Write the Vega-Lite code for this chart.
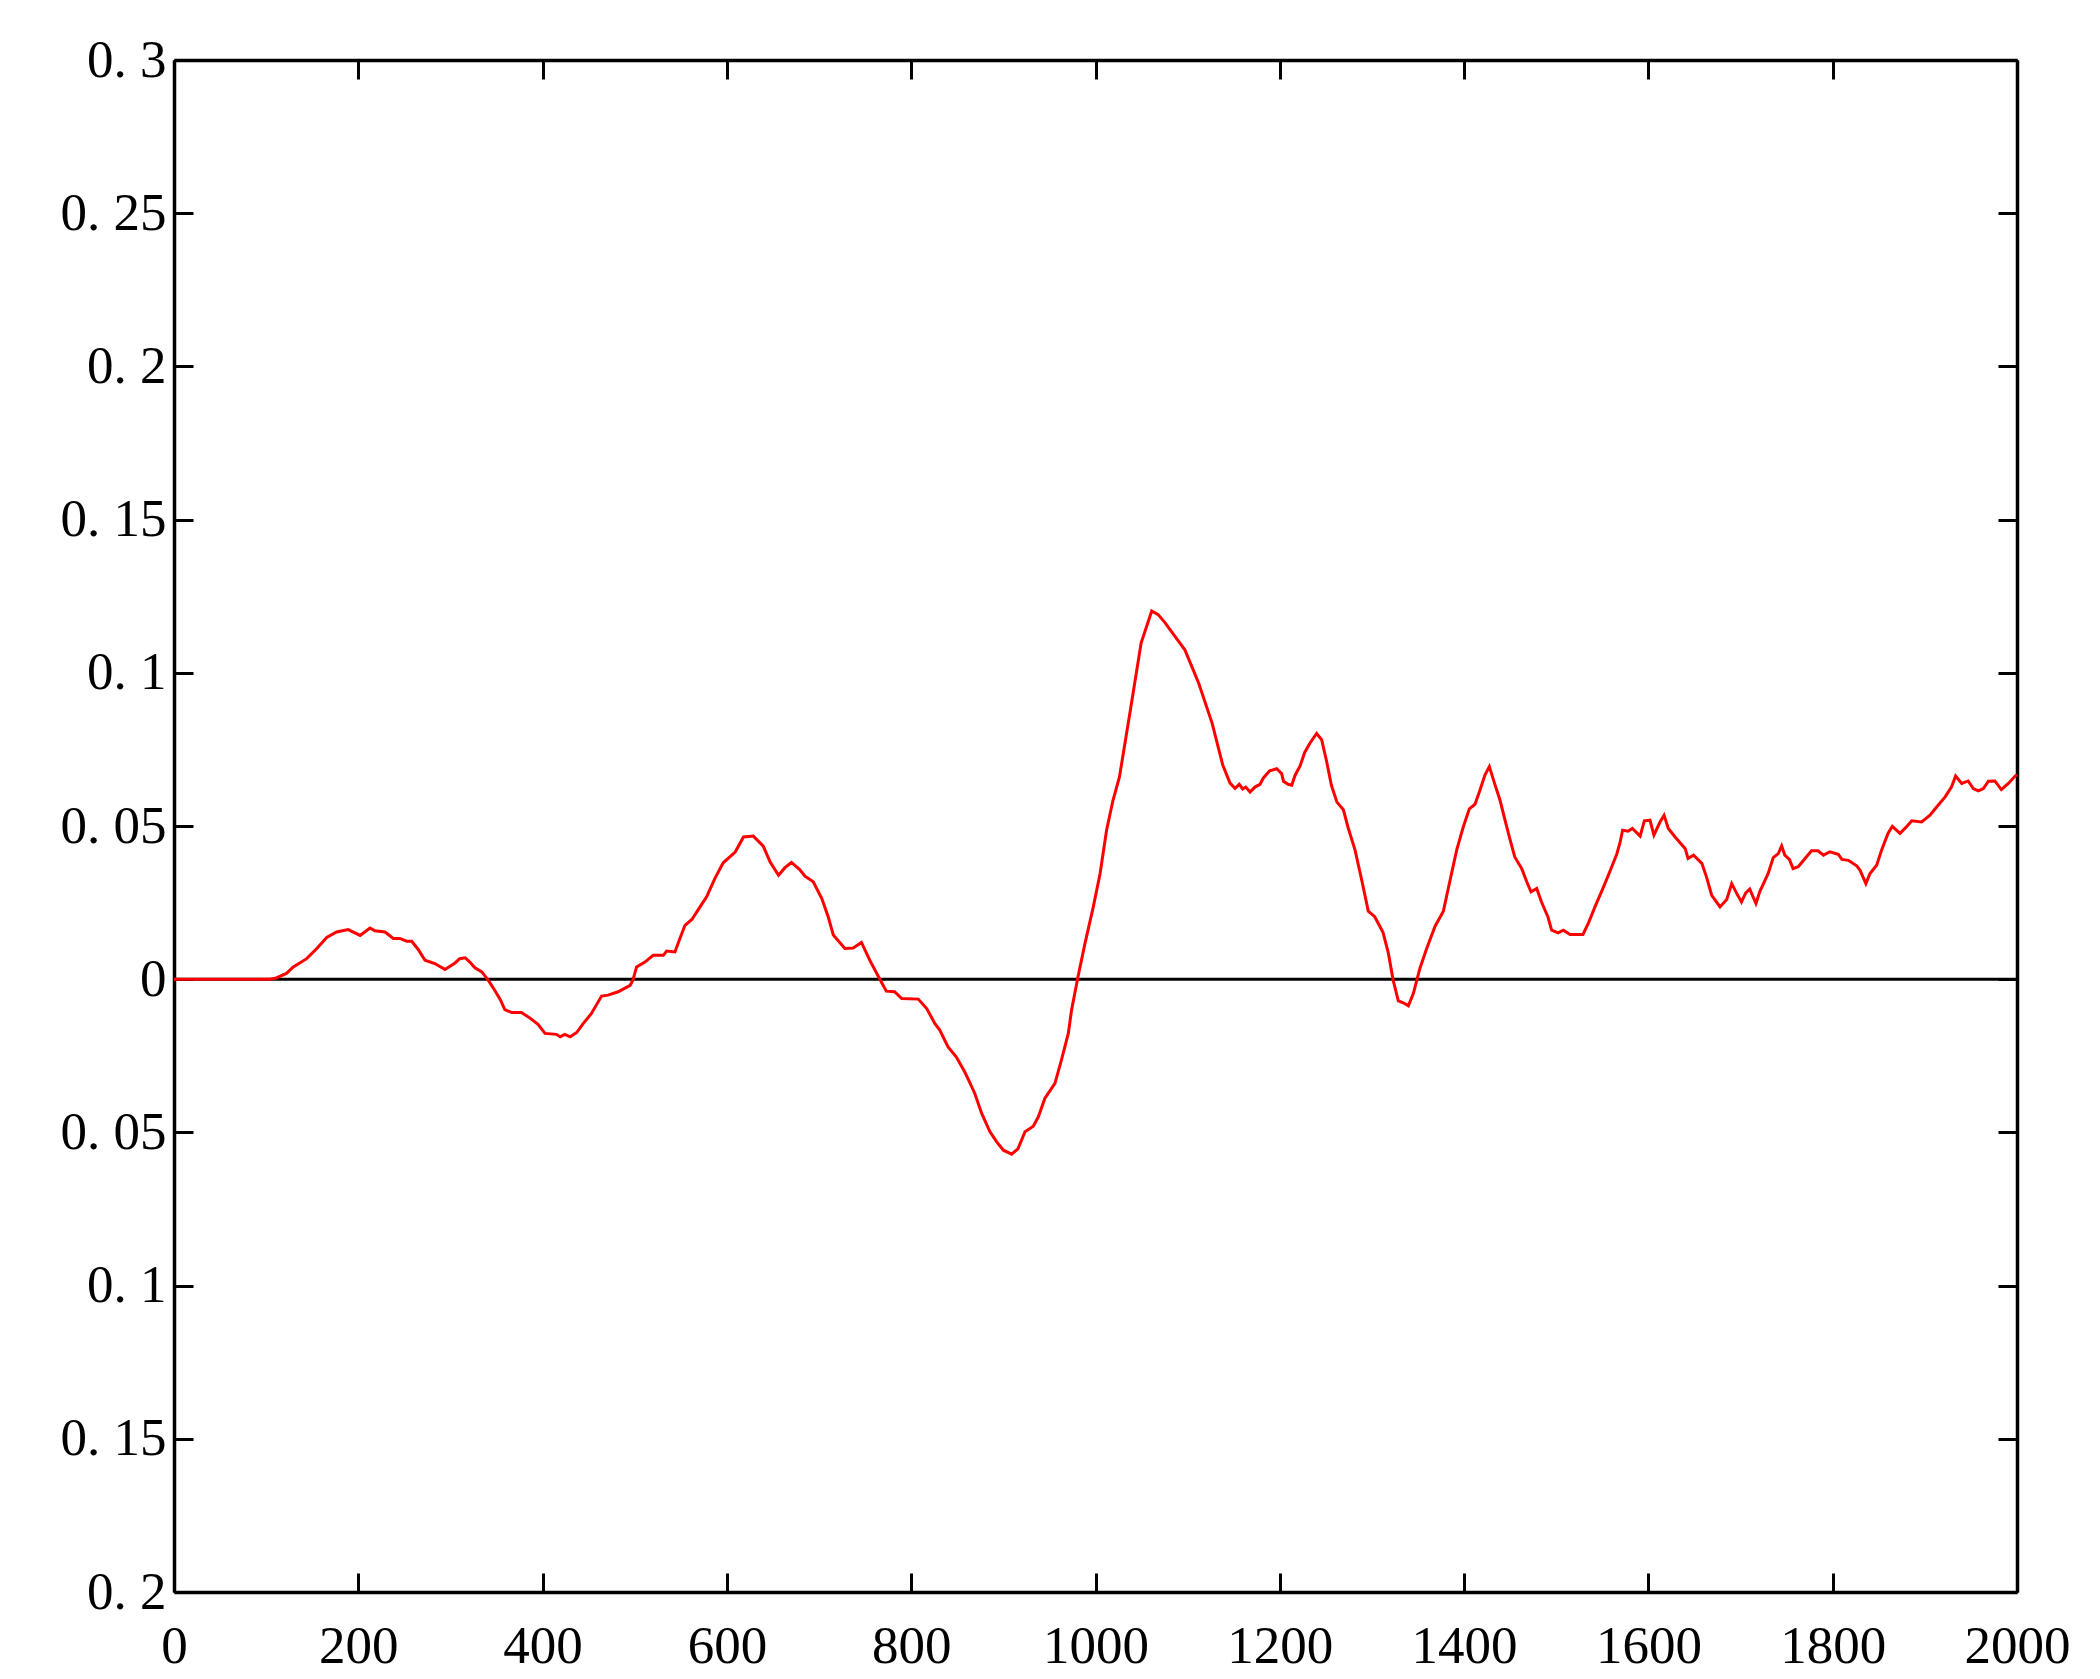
{
  "$schema": "https://vega.github.io/schema/vega-lite/v6.json",
  "width": 1843,
  "height": 1532,
  "autosize": {"type": "none"},
  "padding": {"left": 174, "top": 60, "right": 83, "bottom": 87},
  "background": "white",
  "config": {
    "view": {"stroke": null},
    "axis": {
      "domainColor": "black",
      "domainWidth": 3.5,
      "domainOpacity": 1,
      "tickColor": "black",
      "tickWidth": 3,
      "tickOpacity": 1,
      "tickSize": -19,
      "grid": false,
      "labelFont": "Liberation Serif",
      "labelFontSize": 53,
      "labelColor": "black",
      "labelOverlap": false,
      "labelFlush": false,
      "labelBound": false,
      "title": null
    }
  },
  "data": {"values": [
    {"x":0,"y":0},{"x":104,"y":0},{"x":111,"y":0.0004},{"x":122,"y":0.0019},{"x":129.5,"y":0.004},{"x":144,"y":0.0067},{"x":155,"y":0.010},{"x":165.7,"y":0.0136},{"x":176.5,"y":0.0154},{"x":189,"y":0.0162},{"x":202,"y":0.0143},{"x":212.7,"y":0.0167},{"x":218,"y":0.0158},{"x":229,"y":0.0154},{"x":238,"y":0.0133},{"x":245,"y":0.0133},{"x":252.5,"y":0.0124},{"x":258,"y":0.0124},{"x":265,"y":0.0097},{"x":272.4,"y":0.0062},{"x":283,"y":0.0051},{"x":294,"y":0.0032},{"x":305,"y":0.0053},{"x":310,"y":0.0067},{"x":316,"y":0.0070},{"x":321,"y":0.0056},{"x":326.6,"y":0.0037},{"x":334,"y":0.0024},{"x":341,"y":-0.0003},{"x":348,"y":-0.0036},{"x":354,"y":-0.0066},{"x":359,"y":-0.0099},{"x":366.5,"y":-0.0109},{"x":377,"y":-0.0109},{"x":384.5,"y":-0.0123},{"x":395,"y":-0.0147},{"x":402.6,"y":-0.0177},{"x":415,"y":-0.018},{"x":419,"y":-0.0188},{"x":424,"y":-0.018},{"x":430,"y":-0.0188},{"x":437,"y":-0.0174},{"x":444,"y":-0.0145},{"x":453,"y":-0.0112},{"x":464,"y":-0.0055},{"x":471,"y":-0.0052},{"x":482,"y":-0.0041},{"x":495,"y":-0.002},{"x":498,"y":-0.0003},{"x":502,"y":0.004},{"x":511,"y":0.0056},{"x":520,"y":0.0078},{"x":531,"y":0.0078},{"x":534.6,"y":0.0092},{"x":543.6,"y":0.0089},{"x":549,"y":0.0133},{"x":554.5,"y":0.0176},{"x":562,"y":0.0195},{"x":571,"y":0.0237},{"x":578,"y":0.0269},{"x":587,"y":0.0329},{"x":596,"y":0.038},{"x":609,"y":0.0415},{"x":618,"y":0.0464},{"x":628.7,"y":0.0467},{"x":639.5,"y":0.0434},{"x":646.8,"y":0.0383},{"x":656,"y":0.0339},{"x":663,"y":0.0364},{"x":670,"y":0.0381},{"x":679,"y":0.0358},{"x":684.7,"y":0.0336},{"x":693.7,"y":0.0318},{"x":703,"y":0.0263},{"x":710,"y":0.0203},{"x":715.5,"y":0.0144},{"x":728,"y":0.010},{"x":737,"y":0.0102},{"x":746,"y":0.012},{"x":755,"y":0.0062},{"x":766,"y":0},{"x":773,"y":-0.0039},{"x":782,"y":-0.0041},{"x":789.7,"y":-0.0063},{"x":807.7,"y":-0.0065},{"x":816.8,"y":-0.0096},{"x":825.8,"y":-0.0145},{"x":831,"y":-0.0166},{"x":840,"y":-0.0221},{"x":849,"y":-0.0254},{"x":858,"y":-0.0302},{"x":864,"y":-0.034},{"x":869,"y":-0.0373},{"x":876.5,"y":-0.0438},{"x":885.5,"y":-0.0498},{"x":892.8,"y":-0.0531},{"x":900,"y":-0.0558},{"x":909,"y":-0.0571},{"x":916,"y":-0.0553},{"x":923.5,"y":-0.0498},{"x":932.5,"y":-0.048},{"x":938,"y":-0.0449},{"x":945,"y":-0.0389},{"x":956,"y":-0.034},{"x":963,"y":-0.0264},{"x":970.5,"y":-0.0177},{"x":974,"y":-0.0101},{"x":981,"y":0.0008},{"x":988.6,"y":0.0117},{"x":997.6,"y":0.0236},{"x":1005,"y":0.0345},{"x":1012,"y":0.0486},{"x":1019,"y":0.0584},{"x":1026,"y":0.066},{"x":1039,"y":0.090},{"x":1049.5,"y":0.1097},{"x":1061,"y":0.1202},{"x":1068,"y":0.119},{"x":1075.6,"y":0.1163},{"x":1086,"y":0.112},{"x":1097,"y":0.1075},{"x":1112,"y":0.0966},{"x":1126.6,"y":0.0835},{"x":1138,"y":0.070},{"x":1146,"y":0.064},{"x":1151.4,"y":0.0623},{"x":1156,"y":0.0636},{"x":1159.7,"y":0.0621},{"x":1163,"y":0.0627},{"x":1167.7,"y":0.0611},{"x":1173,"y":0.0627},{"x":1178.5,"y":0.0636},{"x":1182,"y":0.0656},{"x":1189,"y":0.068},{"x":1196.6,"y":0.0687},{"x":1202,"y":0.0671},{"x":1204,"y":0.0646},{"x":1209,"y":0.0636},{"x":1213,"y":0.0633},{"x":1216.5,"y":0.0665},{"x":1222,"y":0.0696},{"x":1227,"y":0.074},{"x":1232.8,"y":0.0771},{"x":1240,"y":0.0802},{"x":1245.5,"y":0.0781},{"x":1251,"y":0.0708},{"x":1256,"y":0.0633},{"x":1262,"y":0.0578},{"x":1269,"y":0.0553},{"x":1274,"y":0.0496},{"x":1281.6,"y":0.0422},{"x":1289,"y":0.0322},{"x":1296,"y":0.0222},{"x":1303,"y":0.0204},{"x":1312,"y":0.0153},{"x":1317.8,"y":0.0085},{"x":1323,"y":-0.0003},{"x":1328.6,"y":-0.0071},{"x":1334,"y":-0.0077},{"x":1339.5,"y":-0.0087},{"x":1345,"y":-0.0046},{"x":1352,"y":0.0035},{"x":1359,"y":0.0097},{"x":1368.4,"y":0.0172},{"x":1377.5,"y":0.0222},{"x":1384.7,"y":0.0322},{"x":1392,"y":0.0422},{"x":1399,"y":0.0496},{"x":1405.7,"y":0.0556},{"x":1411.8,"y":0.0571},{"x":1417,"y":0.0615},{"x":1422.7,"y":0.0667},{"x":1427.4,"y":0.0694},{"x":1433.5,"y":0.0635},{"x":1439,"y":0.0584},{"x":1444,"y":0.0524},{"x":1450,"y":0.0454},{"x":1455,"y":0.0399},{"x":1462.5,"y":0.0361},{"x":1468,"y":0.0318},{"x":1472.6,"y":0.0285},{"x":1478.8,"y":0.0296},{"x":1484,"y":0.0252},{"x":1491,"y":0.0203},{"x":1495,"y":0.016},{"x":1502,"y":0.0151},{"x":1507.7,"y":0.016},{"x":1515,"y":0.0146},{"x":1522,"y":0.0146},{"x":1529,"y":0.0146},{"x":1535,"y":0.0184},{"x":1542,"y":0.0236},{"x":1549,"y":0.0285},{"x":1556.5,"y":0.0339},{"x":1565.6,"y":0.0408},{"x":1569,"y":0.0443},{"x":1572,"y":0.0486},{"x":1578,"y":0.0483},{"x":1582.6,"y":0.0492},{"x":1591,"y":0.0467},{"x":1595.6,"y":0.0517},{"x":1601.7,"y":0.0519},{"x":1606,"y":0.047},{"x":1612.6,"y":0.0513},{"x":1617,"y":0.0535},{"x":1621.6,"y":0.0492},{"x":1629,"y":0.0464},{"x":1640,"y":0.0426},{"x":1643,"y":0.0394},{"x":1649,"y":0.0405},{"x":1658,"y":0.0378},{"x":1663,"y":0.0334},{"x":1668.7,"y":0.0274},{"x":1677.7,"y":0.0236},{"x":1685,"y":0.026},{"x":1690.4,"y":0.0312},{"x":1695.8,"y":0.028},{"x":1701,"y":0.0252},{"x":1705.6,"y":0.0282},{"x":1710,"y":0.0294},{"x":1716.7,"y":0.0247},{"x":1721,"y":0.0287},{"x":1730,"y":0.0345},{"x":1735.5,"y":0.0397},{"x":1741,"y":0.041},{"x":1744.6,"y":0.0435},{"x":1748,"y":0.0405},{"x":1753,"y":0.0391},{"x":1757,"y":0.0361},{"x":1762.6,"y":0.0367},{"x":1770,"y":0.0394},{"x":1777,"y":0.0419},{"x":1784,"y":0.0419},{"x":1790,"y":0.0405},{"x":1797,"y":0.0416},{"x":1806,"y":0.0408},{"x":1810,"y":0.0391},{"x":1817,"y":0.0388},{"x":1826,"y":0.037},{"x":1829.6,"y":0.0356},{"x":1836,"y":0.0312},{"x":1840.5,"y":0.0345},{"x":1847.7,"y":0.0372},{"x":1853,"y":0.0421},{"x":1860,"y":0.0476},{"x":1864.7,"y":0.0499},{"x":1873,"y":0.0476},{"x":1880,"y":0.0497},{"x":1885.7,"y":0.0517},{"x":1896.5,"y":0.0513},{"x":1905.6,"y":0.0535},{"x":1912.8,"y":0.0562},{"x":1922,"y":0.0595},{"x":1929,"y":0.0628},{"x":1933.4,"y":0.0663},{"x":1940,"y":0.0639},{"x":1947,"y":0.0647},{"x":1952.6,"y":0.0622},{"x":1958,"y":0.0615},{"x":1963.5,"y":0.0622},{"x":1969,"y":0.0646},{"x":1976,"y":0.0647},{"x":1983,"y":0.0619},{"x":1990.6,"y":0.0639},{"x":1998,"y":0.0663},{"x":2000,"y":0.0667}
  ]},
  "layer": [
    {
      "data": {"values": [{}]},
      "mark": {"type": "rule", "color": "black", "strokeWidth": 3},
      "encoding": {
        "y": {
          "datum": 0,
          "type": "quantitative",
          "scale": {"domain": [-0.2, 0.3], "nice": false, "zero": false},
          "axis": {"orient": "right", "values": [-0.2,-0.15,-0.1,-0.05,0,0.05,0.1,0.15,0.2,0.25,0.3], "labels": false, "domainWidth": 3.5, "tickWidth": 3, "title": null}
        }
      }
    },
    {
      "mark": {"type": "line", "color": "red", "strokeWidth": 3},
      "encoding": {
        "x": {
          "field": "x",
          "type": "quantitative",
          "scale": {"domain": [0, 2000], "nice": false, "zero": false},
          "axis": {"orient": "bottom", "values": [0,200,400,600,800,1000,1200,1400,1600,1800,2000], "format": "d", "labelPadding": 47, "domainWidth": 3.5, "tickWidth": 3, "title": null}
        },
        "y": {
          "field": "y",
          "type": "quantitative",
          "scale": {"domain": [-0.2, 0.3], "nice": false, "zero": false},
          "axis": {
            "orient": "left",
            "values": [-0.2,-0.15,-0.1,-0.05,0,0.05,0.1,0.15,0.2,0.25,0.3],
            "labelPadding": 27,
            "domainWidth": 3.5,
            "tickWidth": 3,
            "labelExpr": "datum.value == 0 ? '0' : replace(format(abs(datum.value), '.2~f'), '.', '. ')",
            "title": null
          }
        }
      }
    },
    {
      "mark": {"type": "line", "opacity": 0},
      "encoding": {
        "x": {
          "field": "x",
          "type": "quantitative",
          "scale": {"domain": [0, 2000], "nice": false, "zero": false},
          "axis": {"orient": "top", "values": [0,200,400,600,800,1000,1200,1400,1600,1800,2000], "labels": false, "domainWidth": 3.5, "tickWidth": 3, "title": null}
        },
        "y": {"field": "y", "type": "quantitative", "axis": null}
      }
    }
  ],
  "resolve": {"axis": {"x": "independent", "y": "independent"}}
}
